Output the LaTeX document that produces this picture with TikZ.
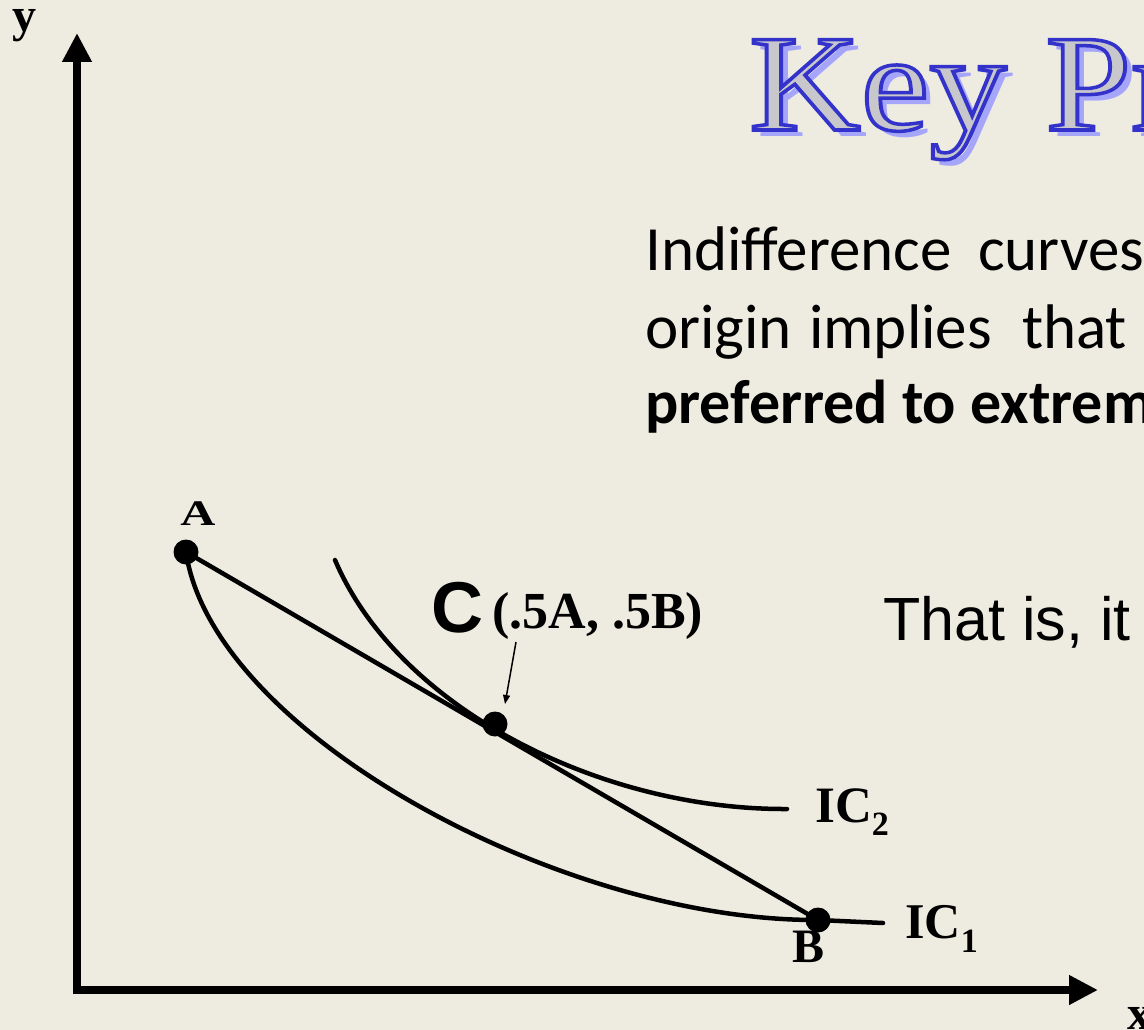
\documentclass[tikz,border=0pt]{standalone}
\usepackage{fontspec}
\usepackage{graphicx}
\setmainfont{Liberation Serif}
\newfontfamily\calibrifont{Carlito}
\newfontfamily\arialfont{Liberation Sans}
\usetikzlibrary{arrows.meta}
\definecolor{bg}{HTML}{EEECE1}
\definecolor{tblue}{HTML}{3333CC}
\definecolor{tshadow}{HTML}{9999FF}
\definecolor{tfill}{HTML}{C8C8CC}
\newcommand\ttlraw{\fontsize{138}{138}\selectfont\scalebox{1.12}[1]{Key Pr}}
\newcommand\ttloutlined{\special{pdf:literal direct 2 Tr 3.5 w 0.2 0.2 0.8 RG 0.784 0.784 0.8 rg}\ttlraw\special{pdf:literal direct 0 Tr}}
\begin{document}
\begin{tikzpicture}[x=1pt,y=-1pt,
  curve/.style={line width=4.5pt, line cap=round, line join=round},
  axis/.style={line width=8pt, -{Triangle[length=29pt,width=28pt]}},
  dot/.style={circle, fill=black, inner sep=0pt, minimum size=25pt},
  lbl/.style={inner sep=0pt, anchor=base west},
  txt/.style={inner sep=0pt, anchor=base west},
  ttlnode/.style={inner sep=0pt, anchor=base west},
  para/.style={txt, font={\calibrifont\fontsize{63}{70}\selectfont}},
  parab/.style={txt, font={\calibrifont\fontsize{62}{70}\selectfont\bfseries}}]
\useasboundingbox (0,0) rectangle (1144,1030);
\fill[bg] (0,0) rectangle (1144,1030);
\clip (0,0) rectangle (1144,1030);

% title: shadow, then outlined letters
\node[ttlnode, text=tshadow, opacity=0.85] (tshadow) at (756,137) {\ttlraw};
\node[ttlnode] (ttitle) at (749,130) {\ttloutlined};

% paragraph text
\node[para] (w1) at (645,270) {Indifference};
\node[para] (w2) at (978,270) {curves};
\node[para] (w3) at (645,348) {origin};
\node[para] (w4) at (809,348) {implies};
\node[para] (w5) at (1022,348) {that};
\node[parab] (w6) at (645,423) {preferred to extrem};
\node[txt, font={\arialfont\fontsize{61}{70}\selectfont}] (thatis) at (883,640) {That is, it};

% axes
\coordinate (Oy) at (77,994);
\coordinate (ytip) at (77,33);
\coordinate (Ox) at (73,990);
\coordinate (xtip) at (1098,990);
\draw[axis] (Oy) -- (ytip);
\draw[axis] (Ox) -- (xtip);
\node[lbl, font={\fontsize{48}{48}\selectfont\bfseries}] (ylab) at (12,32) {y};
\node[lbl, font={\fontsize{48}{48}\selectfont\bfseries}] (xlab) at (1127,1029) {x};

% points
\node[dot] (dotA) at (186,552) {};
\node[dot] (dotB) at (818,920) {};
\node[dot] (dotC) at (495,724) {};

% budget line A-B
\draw[curve] (dotA.center) -- (dotB.center);

% IC1
\coordinate (ic1end) at (883,923);
\draw[curve] (dotA.center) .. controls (212,732) and (560,921) .. (dotB.center) -- (ic1end);
% IC2
\coordinate (ic2s) at (335,560);
\coordinate (ic2e) at (787,809);
\draw[curve] (ic2s) .. controls (398,708) and (600,810) .. (ic2e);

% labels
\node[inner sep=0pt, anchor=base, font={\fontsize{36}{36}\selectfont\bfseries}] (labA) at (198,525) {\scalebox{1.35}[1]{A}};
\node[lbl, font={\fontsize{48}{48}\selectfont\bfseries}] (labB) at (792,962) {B};
\node[lbl, font={\arialfont\fontsize{72}{72}\selectfont\bfseries}] (labC) at (431,632) {C};
\node[lbl, font={\fontsize{52}{52}\selectfont\bfseries}] (labCC) at (492,628) {(.5A, .5B)};
\node[lbl, font={\fontsize{51}{51}\selectfont\bfseries}] (ic2) at (815,822) {IC\raisebox{-13pt}{\fontsize{34}{34}\selectfont 2}};
\node[lbl, font={\fontsize{50}{50}\selectfont\bfseries}] (ic1) at (905,938) {IC\raisebox{-14pt}{\fontsize{34}{34}\selectfont 1}};

% small pointer arrow to C
\coordinate (arrS) at (516,642);
\coordinate (arrE) at (505,704);
\draw[line width=1.5pt, -{Triangle[length=9pt,width=7pt]}] (arrS) -- (arrE);
\end{tikzpicture}
\end{document}
